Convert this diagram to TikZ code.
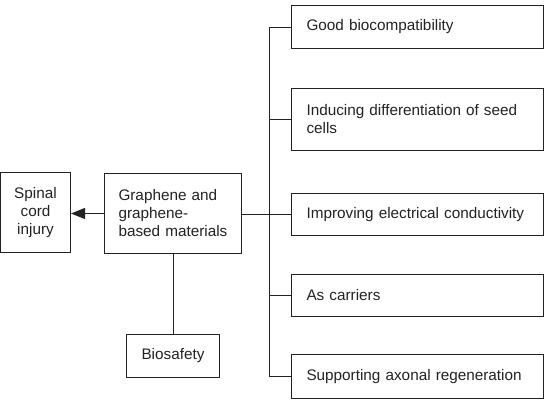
\documentclass[tikz,border=0pt]{standalone}
\usepackage{fontspec}
\setmainfont{Liberation Sans}
\usetikzlibrary{arrows.meta}
\definecolor{ink}{HTML}{222222}
\tikzset{
  box/.style={draw=ink, line width=1pt, text=ink, inner sep=0pt, anchor=north west,
    font=\fontsize{15.3}{18}\selectfont},
  rbox/.style={box, minimum width=252pt, align=left, text width=222pt, inner xsep=15pt},
  link/.style={draw=ink, line width=1pt},
}
\begin{document}
\begin{tikzpicture}[x=1pt,y=1pt]
\useasboundingbox (0,0) rectangle (544,-400);
% left boxes
\node[box, minimum width=70pt, minimum height=80pt, align=center] (sci) at (0,-172) {Spinal\\cord\\injury};
\node[box, minimum width=137pt, minimum height=80pt, align=left, text width=109pt, inner xsep=14pt] (gr) at (104,-173) {Graphene and\\graphene-\\based materials};
\node[box, minimum width=93pt, minimum height=43pt] (bio) at (126,-334) {Biosafety};
% right boxes
\node[rbox, minimum height=43pt] (b1) at (291,-5) {Good biocompatibility};
\node[rbox, minimum height=62pt] (b2) at (291,-88) {Inducing differentiation of seed\\cells};
\node[rbox, minimum height=42pt] (b3) at (291,-193) {Improving electrical conductivity};
\node[rbox, minimum height=42pt] (b4) at (291,-274) {As carriers};
\node[rbox, minimum height=44pt] (b5) at (291,-354) {Supporting axonal regeneration};
\coordinate (bus) at (269,0);
% connectors
\draw[link, -{Triangle[length=14pt,width=11pt]}] (gr.west) -- (gr.west -| sci.east);
\draw[link] (gr.south -| bio.north) -- (bio.north);
\draw[link] (gr.east |- b3.west) -- (b3.west);
\draw[link] (b1.west -| bus) -- (b5.west -| bus);
\foreach \b in {b1,b2,b4,b5}{\draw[link] (\b.west -| bus) -- (\b.west);}
\end{tikzpicture}
\end{document}
